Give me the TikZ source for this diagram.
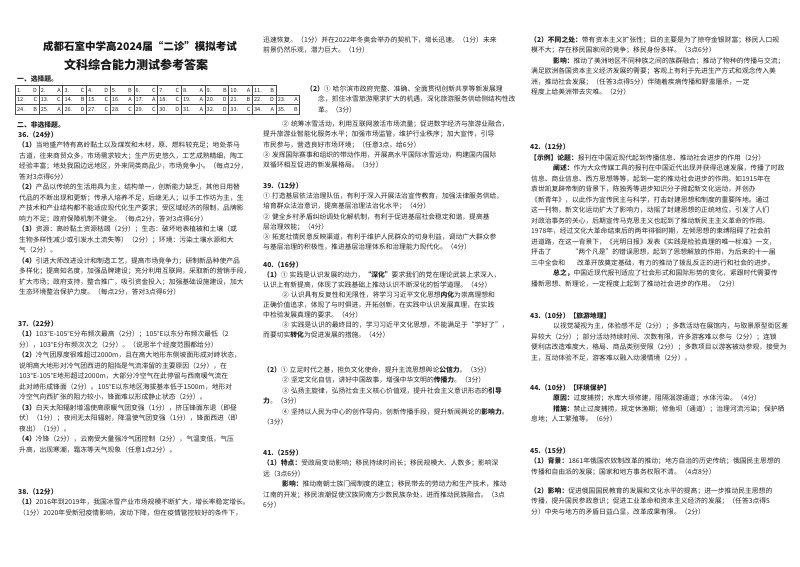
\documentclass[tikz,border=0pt]{standalone}
\usepackage{fontspec}
\setmainfont{Noto Sans CJK SC}
\XeTeXlinebreaklocale "zh"
\XeTeXlinebreakskip=0pt plus 2pt minus 0.4pt
\newcount\lnc
\newcommand\J[4]{\global\advance\lnc by 1\node[txt] (L\the\lnc) at (#1,#2) {\hbox to #3pt{#4}};}
\newcommand\T[3]{\global\advance\lnc by 1\node[txt] (L\the\lnc) at (#1,#2) {#3};}
\newcommand\cn[1]{#1\kern2pt}
\tikzset{txt/.style={anchor=base west,inner sep=0pt,text=black!85,font=\fontsize{6.8}{8}\selectfont},
 cell/.style={draw=black!70,line width=0.5pt,minimum width=23.7pt,minimum height=9.5pt,inner sep=1pt,anchor=north west,font=\fontsize{5.6}{6}\selectfont,text=black!85}}
\begin{document}
\begin{tikzpicture}[x=1pt,y=-1pt]
\useasboundingbox[fill=white] (0,0) rectangle (800,566);
% title
\node[font=\fontsize{10.5}{12}\selectfont\bfseries,text=black!90] (title1) at (140,46) {成都石室中学高2024届“二诊”模拟考试};
\node[font=\fontsize{12}{14}\selectfont\bfseries,text=black!90] (title2) at (136,65) {文科综合能力测试参考答案};
\T{17}{81}{\bfseries 一、选择题。}
% table
\foreach \t/\l [count=\i from 0] in {1./D,2./A,3./C,4./D,5./B,6./C,7./C,8./A,9./B,10./A,11./B}{
  \pgfmathsetmacro\xx{15+23.7*\i}
  \node[cell] (a\i) at (\xx,85) {\hbox to 20pt{\t\hfill\l}};}
\foreach \t/\l [count=\i from 0] in {12./C,13./C,14./B,15./C,16./A,17./A,18./C,19./A,20./D,21./B,22./D,23./A}{
  \pgfmathsetmacro\xx{15+23.7*\i}
  \node[cell] (b\i) at (\xx,94.5) {\hbox to 20pt{\t\hfill\l}};}
\foreach \t/\l [count=\i from 0] in {24./B,25./A,26./D,27./C,28./C,29./C,30./D,31./A,32./D,33./C,34./A,35./B}{
  \pgfmathsetmacro\xx{15+23.7*\i}
  \node[cell] (c\i) at (\xx,104) {\hbox to 20pt{\t\hfill\l}};}
\T{17}{127}{\bfseries 二、非选择题。}
% column 1
\T{18}{137}{\bfseries 36.（24分）}
\J{18}{147.5}{236}{\textbf{（1）}当地盛产特有高岭黏土以及煤炭和木材，原、燃料较充足；地处茶马}
\J{19}{158}{235}{古道，往来商贸众多，市场需求较大；生产历史悠久，工艺成熟精细，陶工}
\J{19}{168.5}{235}{经验丰富；地处我国边远地区，外来同类商品少，市场竞争小。（每点2分，}
\T{19}{179}{答对3点得6分）}
\J{18}{189.5}{236}{\textbf{（2）}产品以传统的生活用具为主，结构单一，创新能力缺乏，其他日用替}
\J{19}{200}{235}{代品的不断出现和更新；传承人培养不足，后继无人；以手工作坊为主，生}
\J{19}{210.5}{235}{产技术和产业结构都不能适应现代化生产要求；受区域经济的限制，品牌影}
\T{19}{221}{响力不足；政府保障机制不健全。（每点2分，答对3点得6分）}
\J{18}{231.5}{236}{\textbf{（3）}资源：高岭黏土资源枯竭（2分）；生态：破坏地表植被和土壤（或}
\J{19}{242}{228}{生物多样性减少或引发水土流失等）（2分）；环境：污染土壤水源和大}
\T{19}{252.5}{气（2分）。}
\J{18}{263}{236}{\textbf{（4）}引进大师改进设计和制造工艺，提高市场竞争力；研制新品种使产品}
\J{19}{273.5}{235}{多样化；提高知名度，加强品牌建设；充分利用互联网，采取新的营销手段，}
\J{19}{284}{235}{扩大市场；政府支持，整合推广，吸引资金投入；加强基础设施建设，加大}
\T{19}{294.5}{生态环境整治保护力度。（每点2分，答对3点得6分）}
\T{18}{326}{\bfseries 37.（22分）}
\J{18}{336.5}{236}{\textbf{（1）}103°E-105°E分布频次最高（2分）；105°E以东分布频次最低（2}
\T{19}{347}{分），103°E分布频次次之（2分）。（说思半个经度范围都给分）}
\T{18}{357.5}{\textbf{（2）}冷气团厚度很难超过2000m，且在高大地形东侧坡面形成对峙状态，}
\J{19}{368}{235}{说明高大地形对冷气团西进的阻挡是气流滞留的主要原因（2分），在}
\J{19}{378.5}{235}{103°E-105°E地形超过2000m，大部分冷空气在此停留与西南暖气流在}
\J{19}{389}{235}{此对峙形成锋面（2分）。105°E以东地区海拔基本低于1500m，地形对}
\T{19}{399.5}{冷空气向西扩张的阻力较小，锋面难以形成静止状态（2分）。}
\J{18}{410}{236}{\textbf{（3）}白天太阳辐射增温使高原暖气团变强（1分），挤压锋面东退（即昼}
\J{19}{420.5}{235}{伏）（1分）；夜间无太阳辐射，降温使气团变强（1分），锋面西进（即}
\T{19}{431}{夜出）（1分）。}
\J{18}{441.5}{236}{\textbf{（4）}冷锋（2分），云南受大量强冷气团控制（2分），气温变低，气压}
\T{19}{452}{升高，出现寒潮，霜冻等天气现象（任意1点2分）。}
\T{18}{494}{\bfseries 38.（12分）}
\J{18}{504.5}{238}{\textbf{（1）}2016年到2019年，我国冰雪产业市场规模不断扩大，增长率稳定增长。}
\T{19}{515}{（1分）2020年受新冠疫情影响，波动下降，但在疫情管控较好的条件下，}
% column 2
\J{263}{42}{250}{迅速恢复。（1分）并在2022年冬奥会举办的契机下，增长迅速。（1分）未来}
\T{263}{52.5}{前景仍然乐观，潜力巨大。（1分）}
\J{306}{91}{207}{\textbf{（2）}\cn{①}哈尔滨市政府完整、准确、全面贯彻创新共享等新发展理}
\J{318}{101.5}{195}{念，抓住冰雪旅游需求扩大的机遇，深化旅游服务供给侧结构性改}
\T{318}{112}{革。（3分）}
\J{282}{126}{233}{\cn{②}统筹冰雪活动，利用互联网激活市场流量；促进数字经济与旅游业融合，}
\T{263}{136.5}{提升旅游业智能化服务水平；加强市场监管，维护行业秩序；加大宣传，引导}
\T{263}{147}{市民参与，营造良好市场环境；（任意3点，给6分）}
\T{263}{157}{\cn{③}发挥国际赛事和组织的带动作用，开展高水平国际冰雪运动，构建国内国际}
\T{263}{167.5}{双循环相互促进的新发展格局。（3分）}
\T{263}{188}{\bfseries 39.（12分）}
\J{263}{198}{250}{\cn{①}打造基层依法治理队伍，有利于深入开展法治宣传教育，加强法律服务供给，}
\T{263}{208.5}{培育群众法治意识，提高基层治理法治化水平；（4分）}
\J{263}{219}{248}{\cn{②}健全乡村矛盾纠纷调处化解机制，有利于促进基层社会稳定和谐，提高基}
\T{263}{229}{层治理效能；（4分）}
\J{263}{239}{250}{\cn{③}拓宽社情民意反映渠道，有利于维护人民群众的切身利益，调动广大群众参}
\T{263}{249}{与基层治理的积极性，推进基层治理体系和治理能力现代化。（4分）}
\T{263}{267}{\bfseries 40.（16分）}
\T{263}{277}{\textbf{（1）}\cn{①}实践是认识发展的动力，\textbf{“深化”}要求我们的党在理论武装上求深入，}
\T{263}{287}{认识上有新提高，体现了实践基础上推动认识不断深化的哲学道理。（4分）}
\T{282}{297}{\cn{②}认识具有反复性和无限性，将学习习近平文化思想\textbf{内化}为崇高理想和}
\T{263}{307}{正确价值追求，体现了与时俱进，开拓创新，在实践中认识发展真理，在实践}
\T{263}{317}{中检验发展真理的要求。（4分）}
\J{282}{327}{231}{\cn{③}实践是认识的最终目的，学习习近平文化思想，不能满足于“学好了”，}
\T{263}{337}{而要切实\textbf{转化}为促进发展的措施。（4分）}
\T{263}{372}{\textbf{（2）}\cn{①}立足时代之基，担负文化使命，提升主流思想舆论\textbf{公信力}。（3分）}
\T{282}{382.5}{\cn{②}坚定文化自信，讲好中国故事，增强中华文明的\textbf{传播力}。（3分）}
\J{282}{393}{231}{\cn{③}弘扬主旋律，弘扬社会主义核心价值观，提升社会主义意识形态的\textbf{引导}}
\T{263}{403.5}{\textbf{力}。（3分）}
\T{282}{414}{\cn{④}坚持以人民为中心的创作导向，创新传播手段，提升新闻舆论的\textbf{影响力}。}
\T{263}{424.5}{（3分）}
\T{263}{455}{\bfseries 41.（25分）}
\J{263}{465.5}{250}{\textbf{（1）特点：}受政局变动影响；移民持续时间长；移民规模大、人数多；影响深}
\T{263}{476}{远（3点6分）}
\J{282}{486.5}{231}{\textbf{影响：}推动南朝士族门阀制度的建立；移民带去的劳动力和生产技术，推动}
\J{263}{497}{250}{江南的开发；移民浪潮促使汉族同南方少数民族杂处，进而推动民族融合。（3点}
\T{263}{507.5}{6分）}
% column 3
\J{530}{42}{252}{\textbf{（2）不同之处：}带有资本主义扩张性；目的主要是为了掠夺金银财富；移民人口规}
\T{531}{52.5}{模不大；存在移民国家间的竞争；移民身份多样。（3点6分）}
\J{553}{63}{229}{\textbf{影响：}推动了美洲地区不同种族之间的族群融合；推动了物种的传播与交流；}
\J{531}{73.5}{251}{满足欧洲各国资本主义经济发展的需要；客观上有利于先进生产方式和观念传入美}
\J{531}{84}{251}{洲，推动社会发展；（任答3点得5分）伴随着疾病传播和野蛮屠杀，一定}
\T{531}{94.5}{程度上给美洲带去灾难。（2分）}
\T{530}{149}{\bfseries 42.（12分）}
\T{530}{160}{\textbf{【示例】论题：}报刊在中国近现代起到传播信息、推动社会进步的作用（2分）}
\J{553}{170.5}{229}{\textbf{阐述：}作为大众传媒工具的报刊在中国近代出现并获得迅速发展，传播了时政}
\J{531}{181}{251}{信息、商业信息、西方思想等等，起到一定的推动社会进步的作用。如1915年在}
\J{531}{191.5}{251}{袁世凯复辟帝制的背景下，陈独秀等进步知识分子掀起新文化运动，并创办}
\J{531}{202}{251}{《新青年》，以此作为宣传民主与科学，打击封建思想和制度的重要阵地。通过}
\J{531}{212.5}{251}{这一刊物，新文化运动扩大了影响力，动摇了封建思想的正统地位，引发了人们}
\T{531}{223}{对政治事务的关心，后期宣传马克思主义也起到了推动新民主主义革命的作用。}
\J{531}{233.5}{251}{1978年，经过文化大革命结束后的两年徘徊时期，左倾思想的束缚阻碍了社会前}
\J{531}{244}{251}{进道路，在这一背景下，《光明日报》发表《实践是检验真理的唯一标准》一文，}
\J{531}{254.5}{251}{抨击了\hspace{20pt}“两个凡是”的错误思想，起到了思想解放的作用，为后来的十一届}
\J{531}{265}{251}{三中全会和\hspace{12pt}改革开放奠定基础，有力的推动了拨乱反正的进行和社会的进步。}
\J{553}{275.5}{229}{\textbf{总之，}中国近现代报刊适应了社会形式和国际形势的变化，紧跟时代需要传}
\T{531}{286}{播新思想、新理论，一定程度上起到了推动社会进步的作用。（2分）}
\T{530}{318}{\bfseries 43.（10分）【旅游地理】}
\J{553}{328.5}{229}{以视觉凝视为主，体验感不足（2分）；多数活动在展馆内，与取景原型街区差}
\J{531}{339}{251}{异较大（2分）；部分活动持续时间、次数有限，许多游客难以参与（2分）；连锁}
\J{531}{349.5}{251}{便利店改造难度大，格局、商品类别受限（2分）；多数项目以游客被动参观，接受为}
\T{531}{360}{主，互动体验不足，游客难以融入动漫情境（2分）。}
\T{530}{390}{\bfseries 44.（10分）【环境保护】}
\T{553}{400.5}{\textbf{原因：}过度捕捞；水库大坝修建，阻隔洄游通道；水体污染。（4分）}
\J{553}{411}{229}{\textbf{措施：}禁止过度捕捞，规定休渔期；修鱼坝（通道）；治理河流污染；保护栖}
\T{531}{421.5}{息地；人工繁殖等。（6分）}
\T{530}{453}{\bfseries 45.（15分）}
\J{530}{463.5}{252}{\textbf{（1）背景：}1861年俄国农奴制改革的推动；地方自治的历史传统；俄国民主思想的}
\T{531}{474}{传播和自由派的发展；国家和地方事务权限不清。（4点8分）}
\J{530}{493}{252}{\textbf{（2）影响：}促进俄国国民教育的发展和文化水平的提高；进一步推动民主思想的}
\J{531}{503.5}{251}{传播，提升国民参政意识；促进工业革命和资本主义经济的发展；（任答3点得5}
\T{531}{514}{分）中央与地方的矛盾日益凸显，改革成果有限。（2分）}
\end{tikzpicture}
\end{document}
